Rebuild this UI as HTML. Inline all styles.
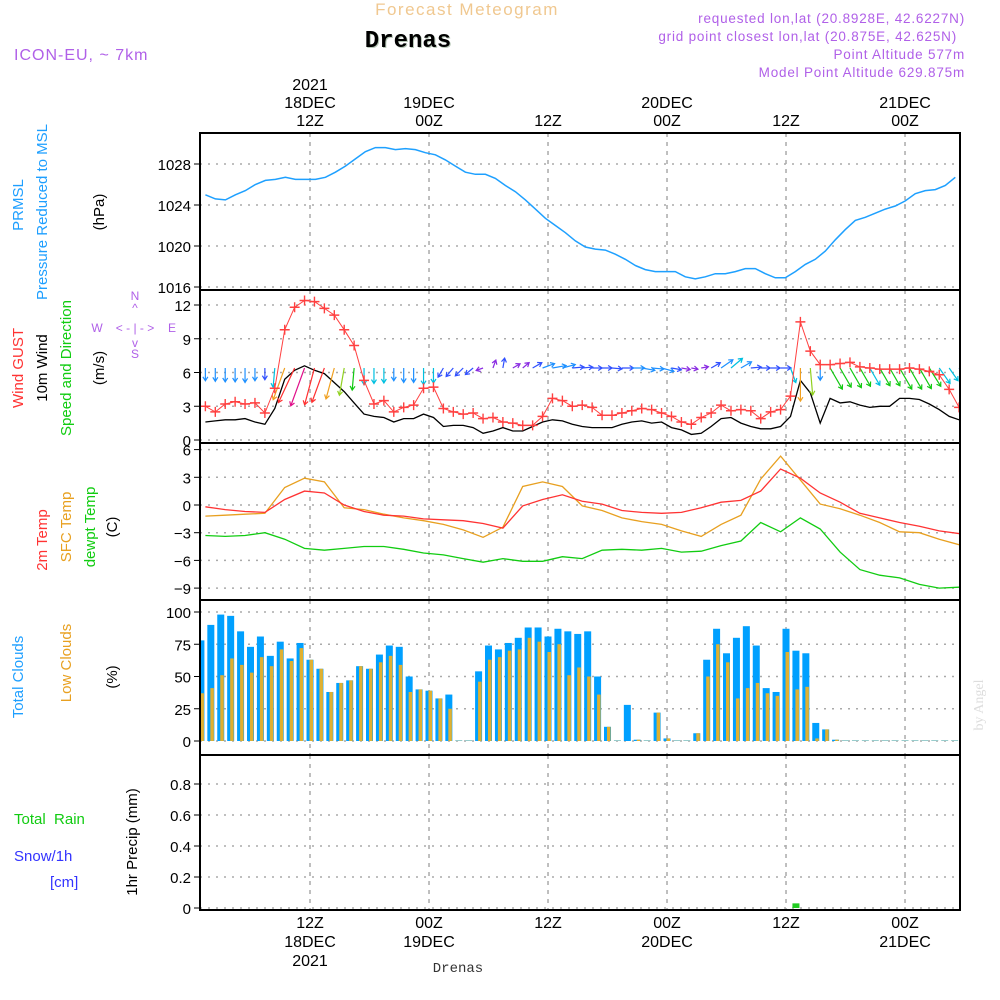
<!DOCTYPE html>
<html><head><meta charset="utf-8"><style>
body{margin:0;background:#fff;}
svg{display:block;font-family:"Liberation Sans",sans-serif;}
</style></head><body>
<svg id="chart" width="1000" height="1000" viewBox="0 0 1000 1000" xmlns="http://www.w3.org/2000/svg">
<defs><clipPath id="plotclip"><rect x="201" y="133" width="758" height="777"/></clipPath></defs>
<rect width="1000" height="1000" fill="#fff"/>
<g id="hdr">
<text x="467" y="15" text-anchor="middle" font-size="17" fill="#f0c890" letter-spacing="1.5">Forecast Meteogram</text>
<text x="409" y="48" text-anchor="middle" font-size="24" font-weight="bold" font-family="Liberation Mono, monospace" fill="#b8c8b8">Drenas</text>
<text x="408" y="47" text-anchor="middle" font-size="24" font-weight="bold" font-family="Liberation Mono, monospace" fill="#000">Drenas</text>
<text x="14" y="60" font-size="16" fill="#b060e8" letter-spacing="1">ICON-EU, ~ 7km</text>
<g font-size="13.5" fill="#b060e8" text-anchor="end" letter-spacing="0.8">
<text x="965" y="23">requested lon,lat (20.8928E, 42.6227N)</text>
<text x="957" y="41">grid point closest lon,lat (20.875E, 42.625N)</text>
<text x="965" y="59">Point Altitude 577m</text>
<text x="965" y="77">Model Point Altitude 629.875m</text>
</g>
</g>
<g id="grid"></g>
<g id="marks" clip-path="url(#plotclip)"></g>
<g id="axes"></g>
<g id="labels" font-size="15">
<text transform="translate(23,205) rotate(-90)" text-anchor="middle" fill="#1e9fff">PRMSL</text>
<text transform="translate(47,212) rotate(-90)" text-anchor="middle" fill="#1e9fff">Pressure Reduced to MSL</text>
<text transform="translate(104,212) rotate(-90)" text-anchor="middle" fill="#000">(hPa)</text>
<text transform="translate(23,368) rotate(-90)" text-anchor="middle" fill="#ff3333">Wind GUST</text>
<text transform="translate(47,368) rotate(-90)" text-anchor="middle" fill="#000">10m Wind</text>
<text transform="translate(71,368) rotate(-90)" text-anchor="middle" fill="#11cc11">Speed and Direction</text>
<text transform="translate(104,368) rotate(-90)" text-anchor="middle" fill="#000">(m/s)</text>
<g font-size="12" fill="#b060e8" text-anchor="middle">
<text x="135" y="300">N</text><text x="135" y="312">^</text><text x="97" y="332">W</text><text x="135" y="332">&lt; - | - &gt;</text><text x="172" y="332">E</text><text x="135" y="347">v</text><text x="135" y="358">S</text>
</g>
<text transform="translate(47,540) rotate(-90)" text-anchor="middle" fill="#ff3333">2m Temp</text>
<text transform="translate(71,527) rotate(-90)" text-anchor="middle" fill="#e8a020">SFC Temp</text>
<text transform="translate(95,527) rotate(-90)" text-anchor="middle" fill="#11cc11">dewpt Temp</text>
<text transform="translate(117,527) rotate(-90)" text-anchor="middle" fill="#000">(C)</text>
<text transform="translate(23,677) rotate(-90)" text-anchor="middle" fill="#1e9fff">Total Clouds</text>
<text transform="translate(71,663) rotate(-90)" text-anchor="middle" fill="#e8a020">Low Clouds</text>
<text transform="translate(117,677) rotate(-90)" text-anchor="middle" fill="#000">(%)</text>
<text x="14" y="824" fill="#11cc11" xml:space="preserve">Total  Rain</text>
<text x="14" y="861" fill="#3333ff">Snow/1h</text>
<text x="50" y="887" fill="#3333ff">[cm]</text>
<text transform="translate(137,842) rotate(-90)" text-anchor="middle" fill="#000">1hr Precip (mm)</text>
<text x="458" y="972" text-anchor="middle" font-size="14" font-family="Liberation Mono, monospace" fill="#333">Drenas</text>
<text transform="translate(983,705) rotate(-90)" text-anchor="middle" font-size="14" font-family="Liberation Serif, serif" fill="#ddd">by Angel</text>
</g>
</svg>
<script>
const pressure=[1025.0,1024.6,1024.5,1025.0,1025.4,1026.0,1026.4,1026.5,1026.7,1026.5,1026.5,1026.5,1026.7,1027.2,1027.8,1028.5,1029.2,1029.6,1029.6,1029.4,1029.5,1029.4,1029.1,1028.9,1028.4,1027.8,1027.2,1027.0,1027.0,1026.6,1025.9,1025.3,1024.5,1023.6,1022.7,1022.0,1021.3,1020.5,1019.9,1019.7,1019.6,1019.2,1018.7,1018.1,1017.7,1017.5,1017.5,1017.5,1017.0,1016.8,1017.0,1017.3,1017.3,1017.5,1017.8,1017.8,1017.3,1016.9,1016.9,1017.5,1018.2,1018.7,1019.5,1020.6,1021.6,1022.5,1022.8,1023.2,1023.6,1023.9,1024.4,1025.1,1025.4,1025.5,1025.9,1026.7];
const gust=[3.0,2.5,3.2,3.4,3.2,3.3,2.4,4.6,9.8,11.8,12.4,12.3,11.7,11.1,9.8,8.4,5.3,3.2,3.5,2.5,2.9,3.1,4.6,4.7,2.8,2.5,2.3,2.4,1.9,2.0,1.6,1.5,1.3,1.3,2.1,3.7,3.5,3.0,3.1,2.9,2.2,2.2,2.4,2.6,2.8,2.7,2.4,2.1,1.6,1.4,2.0,2.4,3.1,2.6,2.7,2.6,1.9,2.5,2.7,3.9,10.5,7.9,6.7,6.7,6.8,6.9,6.5,6.4,6.3,6.3,6.3,6.4,6.3,6.1,5.8,4.5,2.9];
const windSpeed=[1.6,1.7,1.8,1.8,1.9,1.6,1.4,2.8,5.4,6.2,6.6,6.2,5.9,5.1,4.3,3.3,2.3,2.1,2.0,1.6,1.9,1.9,2.3,2.0,1.2,1.3,1.3,1.1,0.6,0.8,1.1,0.8,0.8,1.2,1.6,1.8,1.7,1.4,1.2,1.1,1.1,1.1,1.4,1.6,1.7,1.5,1.6,1.1,0.9,0.5,0.6,1.2,1.9,2.0,1.5,1.2,1.0,1.0,1.2,2.1,5.3,4.2,1.5,3.7,3.3,3.4,3.1,2.9,3.0,3.0,3.7,3.7,3.6,3.2,2.7,2.1,1.8];
const windDirTo=[180,180,180,180,180,180,180,185,200,205,200,195,200,195,190,185,180,180,180,180,180,180,180,180,210,220,225,230,250,20,10,60,50,60,70,80,75,85,85,90,90,95,90,90,100,95,105,100,100,100,80,60,55,50,60,85,90,90,90,160,180,175,180,150,150,150,150,150,150,150,150,150,150,148,145,145,145];
const temp2m=[-0.2,-0.5,-0.7,-0.8,0.6,1.5,1.3,0.0,-0.7,-1.1,-1.2,-1.5,-1.6,-1.7,-2.0,-2.5,-0.1,0.6,1.1,0.4,0.1,-0.6,-0.8,-0.9,-0.8,-0.3,0.3,0.5,1.5,3.9,2.9,1.3,0.3,-0.9,-1.4,-1.9,-2.3,-2.8,-3.1];
const tempSfc=[-1.2,-1.1,-1.0,-0.9,1.9,2.9,2.5,-0.3,-0.5,-1.0,-1.4,-1.7,-2.1,-2.7,-3.5,-2.4,2.0,2.5,2.0,-0.1,-0.6,-1.4,-1.8,-2.1,-2.8,-3.4,-2.1,-1.1,2.8,5.3,2.7,0.1,-0.4,-1.1,-1.9,-2.9,-3.0,-3.7,-4.3];
const dewpt=[-3.3,-3.4,-3.3,-3.0,-3.7,-4.7,-4.9,-4.7,-4.5,-4.5,-4.8,-5.2,-5.4,-5.8,-6.2,-5.8,-6.1,-6.1,-5.6,-5.8,-4.9,-4.8,-4.9,-4.7,-5.1,-5.0,-4.4,-3.9,-1.9,-2.9,-1.4,-2.6,-5.1,-7.0,-7.6,-7.9,-8.6,-9.0,-8.9];
const totalClouds=[78,90,98,97,85,73,81,66,77,64,76,63,56,38,45,47,58,56,67,74,73,50,40,39,33,36,0,0,54,74,71,76,80,88,88,81,87,85,83,85,50,11,0,28,1,0,22,2,0,0,6,63,87,68,80,89,74,41,38,87,70,68,14,9,1,0,0,0,0,0,0,0,0,0,0,0,0];
const lowClouds=[37,41,51,64,59,53,65,58,71,62,72,63,56,38,45,47,58,56,61,66,59,38,40,39,33,25,0,0,46,63,65,70,71,80,77,69,75,51,57,50,36,11,0,0,1,0,22,2,0,0,6,50,75,61,33,41,45,37,35,69,40,42,2,9,1,0,0,0,0,0,0,0,0,0,0,0,0];
const precip=[0,0,0,0,0,0,0,0,0,0,0,0,0,0,0,0,0,0,0,0,0,0,0,0,0,0,0,0,0,0,0,0,0,0,0,0,0,0,0,0,0,0,0,0,0,0,0,0,0,0,0,0,0,0,0,0,0,0,0,0,0.03,0,0,0,0,0,0,0,0,0,0,0,0,0,0,0,0];
const pressureTicks=[1016,1020,1024,1028];
const windTicks=[0,3,6,9,12];
const tempTicks=[-9,-6,-3,0,3,6];
const cloudTicks=[0,25,50,75,100];
const precipTicks=[0,0.2,0.4,0.6,0.8];
const timeTicksTop=[{h:12,l:["2021","18DEC","12Z"]},{h:24,l:["19DEC","00Z"]},{h:36,l:["12Z"]},{h:48,l:["20DEC","00Z"]},{h:60,l:["12Z"]},{h:72,l:["21DEC","00Z"]}];
const timeTicksBottom=[{h:12,l:["12Z","18DEC","2021"]},{h:24,l:["00Z","19DEC"]},{h:36,l:["12Z"]},{h:48,l:["00Z","20DEC"]},{h:60,l:["12Z"]},{h:72,l:["00Z","21DEC"]}];

const NS="http://www.w3.org/2000/svg";
const X0=200,X1=960;
const xT=h=>310+(h-12)*9.917;
function mk(tag,attrs,parent){const e=document.createElementNS(NS,tag);for(const k in attrs)e.setAttribute(k,attrs[k]);parent.appendChild(e);return e;}
function lin(d0,d1,r0,r1){return v=>r0+(v-d0)*(r1-r0)/(d1-d0);}
const yP=lin(1016,1028,287,164), yW=lin(0,12,440,305), yTm=lin(0,3,505,477.3), yC=lin(0,100,741,612), yR=lin(0,0.8,908,784);
const panels=[{t:133,b:290,y:yP,ticks:pressureTicks,f:v=>v,n:"pressure"},{t:290,b:443,y:yW,ticks:windTicks,f:v=>v,n:"wind"},{t:443,b:600,y:yTm,ticks:tempTicks,f:v=>v<0?"\u2212"+(-v):v,n:"temp"},{t:600,b:755,y:yC,ticks:cloudTicks,f:v=>v,n:"cloud"},{t:755,b:910,y:yR,ticks:precipTicks,f:v=>v===0?"0":v.toFixed(1),n:"precip"}];
const grid=document.getElementById('grid'),marks=document.getElementById('marks'),axes=document.getElementById('axes');
panels.forEach(p=>{
  p.ticks.forEach(v=>{
    const y=p.y(v);
    const g=mk('line',{x1:X0,x2:X1,y1:y,y2:y,stroke:'#aaa','stroke-width':1.5,'stroke-dasharray':'2,6'},grid);
    
    
    const tk=mk('line',{x1:X0-6,x2:X0,y1:y,y2:y,stroke:'#000','stroke-width':1},axes);
    
    
    const t=mk('text',{x:X0-9,y:y+6,'text-anchor':'end','font-size':15,fill:'#000'},axes);
    t.textContent=p.f(v);
    
    
  });
  timeTicksTop.forEach(tt=>{
    const x=xT(tt.h);
    const g=mk('line',{x1:x,x2:x,y1:p.t,y2:p.b,stroke:'#aaa','stroke-width':1.5,'stroke-dasharray':'4,5'},grid);
    
    
  });
  const fr=mk('rect',{x:X0,y:p.t,width:X1-X0,height:p.b-p.t,fill:'none',stroke:'#000','stroke-width':2},axes);
  
  
});
timeTicksTop.forEach(tt=>{
  const x=xT(tt.h);
  const n=tt.l.length;
  tt.l.forEach((s,i)=>{
    const t=mk('text',{x:x,y:126-(n-1-i)*18,'text-anchor':'middle','font-size':16,fill:'#000'},axes);
    t.textContent=s;
    
    
  });
});
timeTicksBottom.forEach(tt=>{
  const x=xT(tt.h);
  tt.l.forEach((s,i)=>{
    const t=mk('text',{x:x,y:928+i*19,'text-anchor':'middle','font-size':16,fill:'#000'},axes);
    t.textContent=s;
    
    
  });
});
function path(arr,h0,step,yf,color,name,w){
  const d=arr.map((v,i)=>(i?'L':'M')+xT(h0+i*step).toFixed(1)+','+yf(v).toFixed(1)).join('');
  const p=mk('path',{d:d,fill:'none',stroke:color,'stroke-width':w||1.3},marks);
  
  
}
path(pressure,1.45,1.0083,yP,'#1ea0ff','pressure-line',1.5);
totalClouds.forEach((v,i)=>{
  const x=xT(1+i);
  const b=mk('rect',{x:x-3.5,y:Math.min(yC(v),740),width:7,height:Math.max(yC(0)-yC(v),1),fill:v>0?'#00a0ff':'#9cc'},marks);
  
  
  const lv=lowClouds[i];
  if(lv>0){
    const o=mk('rect',{x:x-0.5,y:yC(lv),width:3.5,height:yC(0)-yC(lv),fill:'#e0b030'},marks);
    
    
  }
});
path(windSpeed,1.45,1,yW,'#000','wind-speed-line',1.3);
function wcol(s){return s<1?'#8a2be2':s<1.5?'#3050ff':s<2?'#1e90ff':s<3?'#00c0e0':s<4?'#10c810':s<4.8?'#90d020':s<5.8?'#f0a020':s<6.4?'#ff3030':'#e0108a';}
windSpeed.forEach((s,i)=>{
  const x=xT(1.45+i),y=368;
  const L=4+5.5*s,a=windDirTo[i]*Math.PI/180;
  const dx=Math.sin(a)*L,dy=-Math.cos(a)*L;
  const x2=x+dx,y2=y+dy;
  const ux=dx/L,uy=dy/L;
  const hx1=x2-ux*4-uy*2.5,hy1=y2-uy*4+ux*2.5,hx2=x2-ux*4+uy*2.5,hy2=y2-uy*4-ux*2.5;
  const c=wcol(s);
  const ar=mk('path',{d:`M${x},${y}L${x2},${y2}M${hx1},${hy1}L${x2},${y2}L${hx2},${hy2}`,fill:'none',stroke:c,'stroke-width':1.2},marks);
  
  
});
path(gust,1.45,1,yW,'#ff4040','gust-line',1);
gust.forEach((v,i)=>{
  const x=xT(1.45+i),y=yW(v);
  const c=mk('path',{d:`M${x-5},${y}H${x+5}M${x},${y-5}V${y+5}`,stroke:'#ff4040','stroke-width':1.4},marks);
  
  
});
path(dewpt,1.45,2,yTm,'#11cc11','dewpoint-line',1.3);
path(tempSfc,1.45,2,yTm,'#e8a020','sfc-temp-line',1.3);
path(temp2m,1.45,2,yTm,'#ff3333','temp2m-line',1.3);
precip.forEach((v,i)=>{
  if(v<=0)return;
  const x=xT(1+i);
  const b=mk('rect',{x:x-3.5,y:yR(v),width:7,height:yR(0)-yR(v),fill:'#22cc22'},marks);
  
  
});
</script>
</body></html>
